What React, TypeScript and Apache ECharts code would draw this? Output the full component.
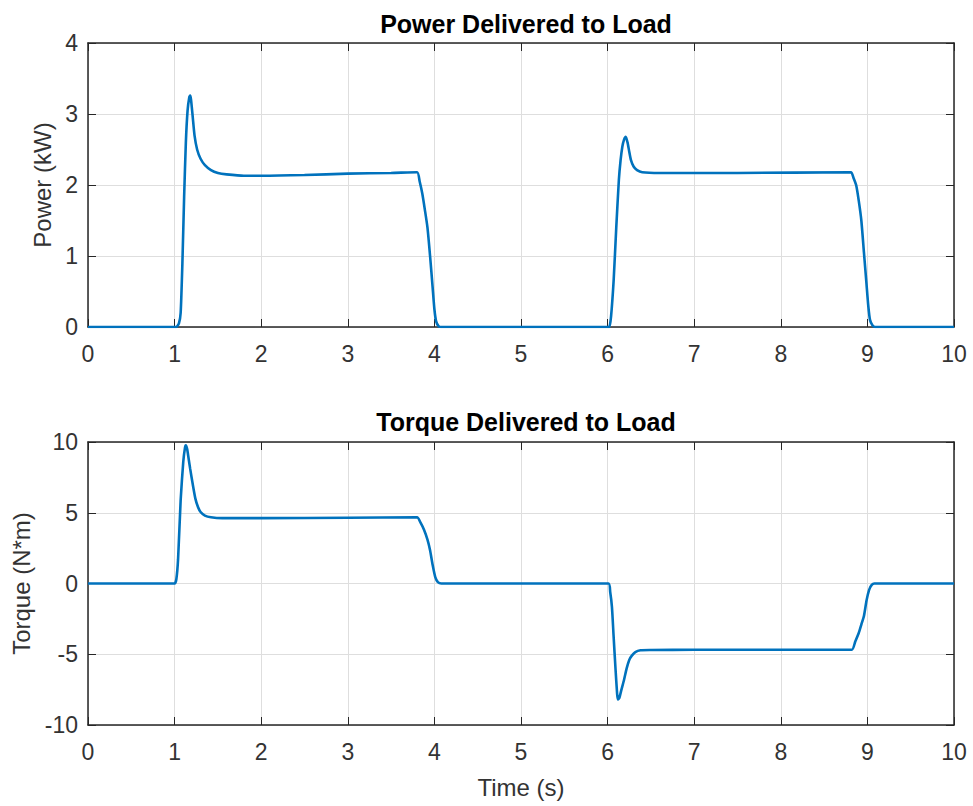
import React, { useEffect, useRef } from "react";
import * as echarts from "echarts";

const xTicks = [0, 10, 1];
const powerTitle = "Power Delivered to Load";
const torqueTitle = "Torque Delivered to Load";

const powerTime = [
  0, 1.0, 1.02, 1.05, 1.07, 1.09, 1.11, 1.13, 1.15, 1.17, 1.18, 1.19, 1.21, 1.23, 1.26, 1.3, 1.35, 1.42, 1.5, 1.6, 1.8,
  2.0, 2.5, 3.0, 3.5, 3.8, 3.83, 3.86, 3.89, 3.92, 3.95, 3.98, 4.0, 4.02, 4.05, 4.08,
  6.0, 6.02, 6.04, 6.07, 6.1, 6.13, 6.15, 6.17, 6.19, 6.21, 6.23, 6.25, 6.27, 6.3, 6.34, 6.4, 6.6, 7.5,
  8.81, 8.84, 8.87, 8.9, 8.93, 8.96, 8.99, 9.01, 9.03, 9.06, 9.09, 10,
];
const powerKW = [
  0, 0, 0, 0.05, 0.2, 0.9, 1.83, 2.6, 3.05, 3.24, 3.26, 3.2, 2.95, 2.7, 2.5, 2.37, 2.28, 2.21, 2.17, 2.15, 2.13,
  2.13, 2.14, 2.16, 2.17, 2.18, 2.05, 1.88, 1.65, 1.4, 1.0, 0.55, 0.25, 0.08, 0.01, 0,
  0, 0, 0.15, 0.66, 1.4, 2.07, 2.35, 2.54, 2.64, 2.68, 2.6, 2.47, 2.35, 2.26, 2.21, 2.18, 2.17, 2.17,
  2.18, 2.1, 2.0, 1.78, 1.5, 1.05, 0.6, 0.3, 0.1, 0.02, 0, 0,
];

const torqueTime = [
  0, 1.0, 1.02, 1.04, 1.07, 1.1, 1.12, 1.13, 1.145, 1.16, 1.18, 1.21, 1.24, 1.27, 1.3, 1.35, 1.42, 1.55, 2.0, 3.0,
  3.8, 3.84, 3.88, 3.92, 3.95, 3.98, 4.01, 4.04, 4.08,
  6.01, 6.03, 6.05, 6.07, 6.09, 6.11, 6.12, 6.135, 6.16, 6.19, 6.22, 6.25, 6.28, 6.32, 6.38, 6.5, 7.0, 8.0,
  8.82, 8.86, 8.9, 8.93, 8.96, 8.99, 9.02, 9.05, 9.08, 10,
];
const torqueNm = [
  0, 0, 0.3, 1.7, 5.9, 8.6, 9.6, 9.76, 9.5, 8.9, 8.1, 7.0, 6.0, 5.4, 5.05, 4.8, 4.68, 4.62, 4.62, 4.65,
  4.68, 4.3, 3.8, 3.1, 2.35, 1.3, 0.45, 0.1, 0,
  0, -0.6, -1.65, -3.8, -5.9, -7.8, -8.2, -8.1, -7.5, -6.8, -6.0, -5.4, -5.1, -4.85, -4.72, -4.7, -4.68, -4.68,
  -4.68, -4.1, -3.5, -2.9, -2.3, -1.2, -0.45, -0.1, 0, 0,
];

const powerAxis = { min: 0, max: 4, interval: 1, name: "Power (kW)" };
const torqueAxis = { min: -10, max: 10, interval: 5, name: "Torque (N*m)" };
const xName = "Time (s)";

const AX = "#262626";
const LBL = "#333333";
const FONT = "'Liberation Sans', Arial, sans-serif";

export default function App() {
  const ref = useRef<HTMLDivElement>(null);
  useEffect(() => {
    if (!ref.current) return;
    document.body.style.margin = "0";
    document.body.style.overflow = "hidden";
    const chart = echarts.init(ref.current, undefined, { renderer: "svg" });
    const grids = [
      { left: 88, top: 43, width: 866, height: 284 },
      { left: 88, top: 442, width: 866, height: 283 },
    ];
    const tick = { show: true, inside: true, length: 8, lineStyle: { color: AX, width: 1 } };
    const axLine = { show: true, lineStyle: { color: AX, width: 1.5 } };
    const xBase = (gi: number) => ({
      type: "value",
      gridIndex: gi,
      min: xTicks[0],
      max: xTicks[1],
      interval: xTicks[2],
      axisLine: { ...axLine, onZero: false },
      axisTick: tick,
    });
    const xAxes: any[] = [
      {
        ...xBase(0),
        position: "bottom",
        axisLabel: { color: LBL, fontSize: 23, fontFamily: FONT, margin: 15 },
        splitLine: { show: true, lineStyle: { color: "#dedede", width: 1 } },
      },
      { ...xBase(0), position: "top", axisLabel: { show: false }, splitLine: { show: false } },
      {
        ...xBase(1),
        position: "bottom",
        name: xName,
        nameLocation: "middle",
        nameGap: 50,
        nameTextStyle: { color: LBL, fontSize: 24, fontFamily: FONT },
        axisLabel: { color: LBL, fontSize: 23, fontFamily: FONT, margin: 15 },
        splitLine: { show: true, lineStyle: { color: "#dedede", width: 1 } },
      },
      { ...xBase(1), position: "top", axisLabel: { show: false }, splitLine: { show: false } },
    ];
    const yBase = (gi: number, a: any) => ({
      type: "value",
      gridIndex: gi,
      min: a.min,
      max: a.max,
      interval: a.interval,
      axisLine: { ...axLine, onZero: false },
      axisTick: tick,
    });
    const yAxes: any[] = [
      {
        ...yBase(0, powerAxis),
        position: "left",
        name: powerAxis.name,
        nameLocation: "middle",
        nameGap: 27,
        nameTextStyle: { color: LBL, fontSize: 24, fontFamily: FONT },
        axisLabel: { color: LBL, fontSize: 23, fontFamily: FONT, margin: 10 },
        splitLine: { show: true, lineStyle: { color: "#dedede", width: 1 } },
      },
      { ...yBase(0, powerAxis), position: "right", axisLabel: { show: false }, splitLine: { show: false } },
      {
        ...yBase(1, torqueAxis),
        position: "left",
        name: torqueAxis.name,
        nameLocation: "middle",
        nameGap: 48,
        nameTextStyle: { color: LBL, fontSize: 24, fontFamily: FONT },
        axisLabel: { color: LBL, fontSize: 23, fontFamily: FONT, margin: 10 },
        splitLine: { show: true, lineStyle: { color: "#dedede", width: 1 } },
      },
      { ...yBase(1, torqueAxis), position: "right", axisLabel: { show: false }, splitLine: { show: false } },
    ];
    chart.setOption({
      animation: false,
      backgroundColor: "#ffffff",
      title: [
        {
          text: powerTitle,
          left: 521,
          top: 6,
          textAlign: "center",
          textStyle: { color: "#000", fontSize: 25, fontWeight: "bold", fontFamily: FONT },
        },
        {
          text: torqueTitle,
          left: 521,
          top: 404,
          textAlign: "center",
          textStyle: { color: "#000", fontSize: 25, fontWeight: "bold", fontFamily: FONT },
        },
      ],
      grid: grids,
      xAxis: xAxes,
      yAxis: yAxes,
      series: [
        {
          type: "line",
          xAxisIndex: 0,
          yAxisIndex: 0,
          data: powerTime.map((t, i) => [t, powerKW[i]]),
          showSymbol: false,
          smooth: 0.2,
          lineStyle: { color: "#0072BD", width: 2.6 },
          itemStyle: { color: "#0072BD" },
        },
        {
          type: "line",
          xAxisIndex: 2,
          yAxisIndex: 2,
          data: torqueTime.map((t, i) => [t, torqueNm[i]]),
          showSymbol: false,
          smooth: 0.2,
          lineStyle: { color: "#0072BD", width: 2.6 },
          itemStyle: { color: "#0072BD" },
        },
      ],
    });
    return () => chart.dispose();
  }, []);
  return <div ref={ref} style={{ position: "fixed", left: 0, top: 0, width: 973, height: 806 }} />;
}
